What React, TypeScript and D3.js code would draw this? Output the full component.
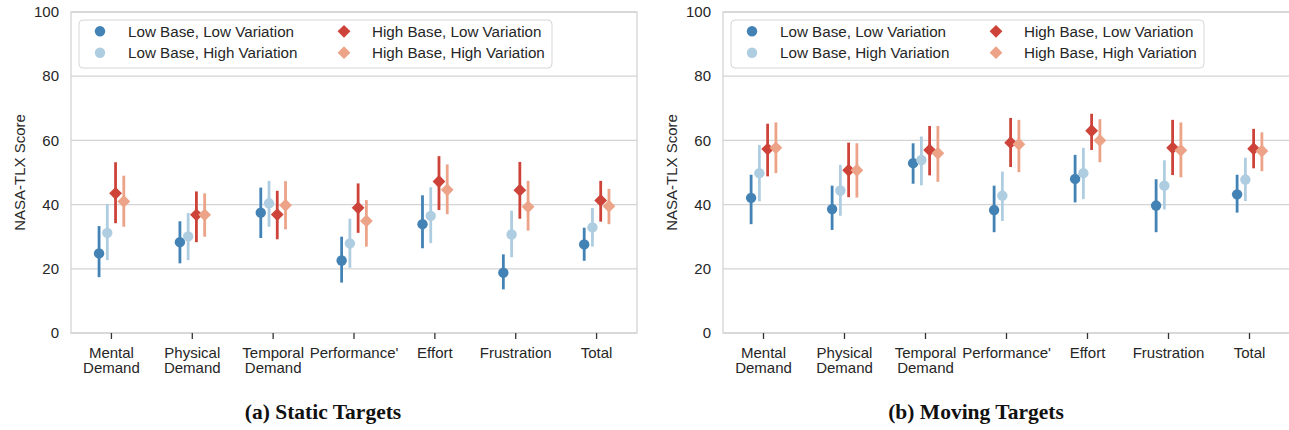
import * as d3 from "d3";

// x categories (tick label lines)
const categories = [
  ["Mental", "Demand"],
  ["Physical", "Demand"],
  ["Temporal", "Demand"],
  ["Performance'"],
  ["Effort"],
  ["Frustration"],
  ["Total"],
];
const hues = [
  "Low Base, Low Variation",
  "Low Base, High Variation",
  "High Base, Low Variation",
  "High Base, High Variation",
];
const hueColors = ["#4382b4", "#aecde1", "#cd4339", "#eca388"];
const hueMarkers = ["circle", "circle", "diamond", "diamond"];
const yTicks = [0, 20, 40, 60, 80, 100];

// [mean, ci low, ci high] per category
const staticLL = [[24.8, 17.4, 33.3], [28.3, 21.7, 34.8], [37.5, 29.6, 45.3], [22.6, 15.7, 30.0], [33.9, 26.4, 42.9], [18.8, 13.6, 24.5], [27.6, 22.5, 32.8]];
const staticLH = [[31.2, 22.7, 40.2], [30.1, 22.7, 37.4], [40.4, 33.1, 47.4], [27.9, 20.3, 35.6], [36.5, 28.0, 45.4], [30.7, 23.6, 38.1], [32.9, 26.9, 38.9]];
const staticHL = [[43.5, 34.2, 53.2], [36.8, 28.3, 44.1], [36.9, 29.2, 44.3], [39.0, 31.2, 46.6], [47.2, 38.3, 55.1], [44.5, 35.6, 53.3], [41.3, 34.7, 47.4]];
const staticHH = [[41.0, 33.1, 49.0], [36.8, 30.0, 43.5], [39.8, 32.3, 47.3], [34.9, 26.9, 41.4], [44.6, 37.0, 52.5], [39.3, 31.9, 47.4], [39.5, 33.9, 44.9]];

const movingLL = [[42.1, 33.9, 49.3], [38.6, 32.1, 45.9], [52.9, 46.5, 59.1], [38.3, 31.4, 45.9], [48.0, 40.7, 55.5], [39.7, 31.4, 47.9], [43.2, 37.5, 49.3]];
const movingLH = [[49.8, 41.0, 58.6], [44.4, 36.5, 52.4], [53.9, 46.0, 61.2], [42.8, 34.9, 50.3], [49.8, 41.7, 57.7], [45.9, 38.5, 53.8], [47.8, 41.1, 54.6]];
const movingHL = [[57.3, 48.8, 65.2], [50.7, 42.3, 59.3], [57.0, 49.1, 64.5], [59.3, 51.7, 67.0], [63.0, 57.0, 68.3], [57.7, 49.2, 66.4], [57.4, 51.3, 63.6]];
const movingHH = [[57.7, 49.8, 65.6], [50.7, 42.2, 59.1], [56.0, 47.1, 64.5], [58.8, 50.1, 66.4], [60.0, 53.2, 66.6], [56.9, 48.5, 65.6], [56.7, 50.4, 62.5]];

const W = 1289;
const H = 430;
const sans = "'Liberation Sans', Arial, sans-serif";
const txt = "#262626";
const gridCol = "#d4d4d4";

const circlePath = d3.symbol(d3.symbolCircle, 85)()!;
const diamondPath = d3.symbol(d3.symbolSquare, 82)()!;

const Marker = ({ kind, color, cx, cy }) =>
  kind === "circle" ? (
    <path d={circlePath} fill={color} transform={`translate(${cx},${cy})`} />
  ) : (
    <path d={diamondPath} fill={color} transform={`translate(${cx},${cy}) rotate(45)`} />
  );

const Panel = ({ series, left, right, caption, captionX }) => {
  const top = 12;
  const bottom = 333;
  const x = d3.scalePoint(d3.range(categories.length), [left, right]).padding(0.5);
  const step = x.step();
  const dodge = d3.scalePoint(d3.range(hues.length), [-0.153 * step, 0.153 * step]);
  const y = d3.scaleLinear([0, 100], [bottom, top]);

  return (
    <g>
      {/* grid */}
      {yTicks.map((t) => (
        <line key={t} x1={left} x2={right} y1={y(t)} y2={y(t)} stroke={gridCol} strokeWidth={1.3} />
      ))}
      {/* spines */}
      <rect x={left} y={top} width={right - left} height={bottom - top} fill="none" stroke={gridCol} strokeWidth={1.3} />

      {/* y ticks */}
      {yTicks.map((t) => (
        <text key={t} x={left - 12} y={y(t)} dy="0.35em" textAnchor="end" fontSize={15} fill={txt} fontFamily={sans}>
          {t}
        </text>
      ))}
      <text
        transform={`translate(${left - 51},${(top + bottom) / 2}) rotate(-90)`}
        textAnchor="middle"
        dy="0.35em"
        fontSize={15}
        fill={txt}
        fontFamily={sans}
      >
        NASA-TLX Score
      </text>

      {/* x ticks */}
      {categories.map((c, i) => (
        <g key={i} transform={`translate(${x(i)},0)`}>
          <line y1={bottom} y2={bottom + 6} stroke="#333" strokeWidth={1.3} />
          {c.map((line, j) => (
            <text key={j} y={357.5 + j * 15.5} textAnchor="middle" fontSize={15} fill={txt} fontFamily={sans}>
              {line}
            </text>
          ))}
        </g>
      ))}

      {/* points with CI */}
      {series.map((s, h) => (
        <g key={h}>
          {s.map((d, i) => {
            const cx = x(i)! + dodge(h)!;
            return (
              <g key={i}>
                <line x1={cx} x2={cx} y1={y(d[1])} y2={y(d[2])} stroke={hueColors[h]} strokeWidth={2.8} />
                <Marker kind={hueMarkers[h]} color={hueColors[h]} cx={cx} cy={y(d[0])} />
              </g>
            );
          })}
        </g>
      ))}

      {/* legend */}
      <g transform={`translate(${left + 8},20)`}>
        <rect x={0} y={0} width={473} height={48} rx={4} fill="white" fillOpacity={0.85} stroke="#d6d6d6" strokeWidth={1} />
        {hues.map((hName, h) => {
          const col = Math.floor(h / 2);
          const row = h % 2;
          const mx = 21 + col * 244;
          const my = 11.3 + row * 21.4;
          return (
            <g key={h}>
              <Marker kind={hueMarkers[h]} color={hueColors[h]} cx={mx} cy={my} />
              <text x={mx + 28} y={my} dy="0.35em" fontSize={15.2} fill={txt} fontFamily={sans}>
                {hName}
              </text>
            </g>
          );
        })}
      </g>

      <text
        x={captionX}
        y={419}
        textAnchor="middle"
        fontSize={21.5}
        fontWeight="bold"
        fill="#111"
        fontFamily="'Liberation Serif', 'Times New Roman', serif"
      >
        {caption}
      </text>
    </g>
  );
};

export default function App() {
  return (
    <svg
      width={W}
      height={H}
      style={{ position: "absolute", left: 0, top: 0, background: "white" }}
    >
      <Panel
        series={[staticLL, staticLH, staticHL, staticHH]}
        left={71}
        right={637}
        caption="(a) Static Targets"
        captionX={323}
      />
      <Panel
        series={[movingLL, movingLH, movingHL, movingHH]}
        left={723}
        right={1290}
        caption="(b) Moving Targets"
        captionX={976}
      />
    </svg>
  );
}
